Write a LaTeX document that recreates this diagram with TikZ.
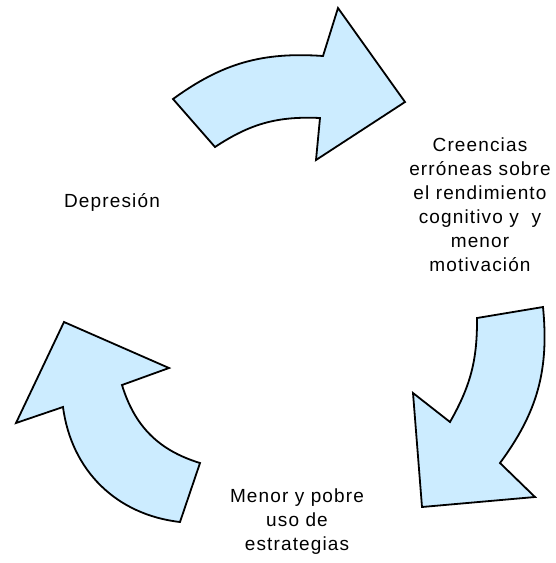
\documentclass[tikz,border=0pt]{standalone}
\usepackage{fontspec}
\setmainfont{Liberation Sans}[LetterSpace=6.0]
\definecolor{celeste}{RGB}{204,236,255}
\tikzset{flecha/.style={draw=black, fill=celeste, line width=1.8pt, line join=miter}}
\begin{document}
\begin{tikzpicture}[x=1pt, y=-1pt, font=\fontsize{19}{24}\selectfont]
            \useasboundingbox (0, 0) rectangle (555, 563);

            \draw[flecha] (173, 99) to[bend left=20] (323, 56) -- (338, 8) -- (405, 102)
                -- (316, 160) -- (320, 118) to[bend right=18] (215, 147) -- cycle;
            \draw[flecha] (477, 318) -- (543, 307) to[bend left=21] (500, 463) -- (535, 497)
                -- (422, 507) -- (413, 393) -- (450, 422) to[bend right=15] cycle;
            \draw[flecha] (200, 463) -- (180, 522) to[bend left=38] (63, 407) -- (16, 423)
                -- (64, 322) -- (169, 368) -- (122, 385) to[bend right=28] cycle;

            \node(D) at (112, 202) {Depresión};
            \node(C) at (480, 205) [align=center] {Creencias\\erróneas sobre\\el rendimiento\\cognitivo y\ \ y\\menor\\motivación};
            \node(M) at (297, 522) [align=center] {Menor y pobre\\uso de\\estrategias};
        \end{tikzpicture}
\end{document}
